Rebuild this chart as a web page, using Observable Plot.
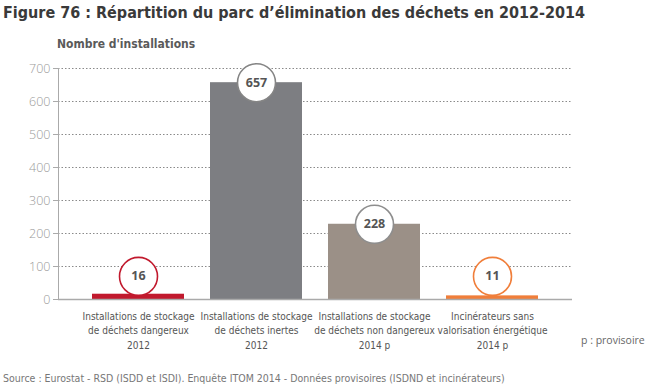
<!DOCTYPE html>
<html><head><meta charset="utf-8">
<script src="https://cdn.jsdelivr.net/npm/d3@7"></script>
<script src="https://cdn.jsdelivr.net/npm/@observablehq/plot@0.6"></script>
<style>
body{margin:0;background:#fff;width:648px;height:390px;position:relative;overflow:hidden;}
#title{position:absolute;left:3px;top:3px;font:bold 16px "DejaVu Sans Condensed",sans-serif;color:#3a3a3a;white-space:nowrap;}
#sub{position:absolute;left:57px;top:37px;font:bold 12px "DejaVu Sans Condensed",sans-serif;color:#5a5a5a;white-space:nowrap;}
#chart{position:absolute;left:0;top:55px;}
#prov{position:absolute;left:581px;top:333px;font:10.5px "Open Sans",sans-serif;color:#666;white-space:nowrap;}
#src{position:absolute;left:3px;top:372px;font:10.5px "DejaVu Sans Condensed",sans-serif;color:#777;white-space:nowrap;}
</style></head>
<body>
<div id="title">Figure 76 : Répartition du parc d’élimination des déchets en 2012-2014</div>
<div id="sub">Nombre d'installations</div>
<div id="chart"></div>
<div id="prov">p : provisoire</div>
<div id="src">Source : Eurostat - RSD (ISDD et ISDI). Enquête ITOM 2014 - Données provisoires (ISDND et incinérateurs)</div>
<script>
const categories = [
  "Installations de stockage\nde déchets dangereux\n2012",
  "Installations de stockage\nde déchets inertes\n2012",
  "Installations de stockage\nde déchets non dangereux\n2014 p",
  "Incinérateurs sans\nvalorisation énergétique\n2014 p"
];
const values = [16, 657, 228, 11];
const barColors = ["#c1192d", "#7d7e82", "#9b9087", "#f07e3a"];
const circleColors = ["#c1192d", "#858585", "#8e8e8e", "#f07e3a"];
const yTicks = [0, 100, 200, 300, 400, 500, 600, 700];
const gridTicks = [100, 200, 300, 400, 500, 600, 700];

const data = categories.map((c, i) => ({cat: c, value: values[i], fill: barColors[i], stroke: circleColors[i]}));
const labelY = d => Math.max(d.value, 70);

const chart = Plot.plot({
  width: 648,
  height: 310,
  marginTop: 13,
  marginBottom: 66,
  marginLeft: 58,
  marginRight: 76,
  style: {fontFamily: "'DejaVu Sans Condensed',sans-serif", background: "transparent"},
  x: {domain: categories, paddingInner: 0.22, paddingOuter: 0.27, label: null},
  y: {domain: [0, 700], label: null},
  marks: [
    Plot.gridY(gridTicks, {stroke: "#8a8a8a", strokeOpacity: 1, strokeDasharray: "1.5,2", strokeWidth: 1}),
    Plot.barY(data, {x: "cat", y: "value", fill: "fill"}),
    Plot.ruleY([0], {stroke: "#aaa", strokeWidth: 1.5}),
    Plot.frame({anchor: "left", stroke: "#aaa"}),
    Plot.axisY({ticks: yTicks, tickSize: 5, tickPadding: 3, stroke: "#aaa", fill: "#9a9a9a", fontSize: 12.5, fontFamily: "'Open Sans',sans-serif", fontWeight: 300}),
    Plot.axisX({tickSize: 0, tickPadding: 10, fill: "#555", fontSize: 10, lineHeight: 1.45}),
    Plot.dot(data, {x: "cat", y: labelY, r: 19, fill: "white", stroke: "stroke", strokeWidth: 1.6}),
    Plot.text(data, {x: "cat", y: labelY, text: d => String(d.value), fill: "#555", fontWeight: "bold", fontSize: 12.5, fontFamily: "'Open Sans',sans-serif"})
  ]
});
document.getElementById("chart").appendChild(chart);
</script>
</body></html>
